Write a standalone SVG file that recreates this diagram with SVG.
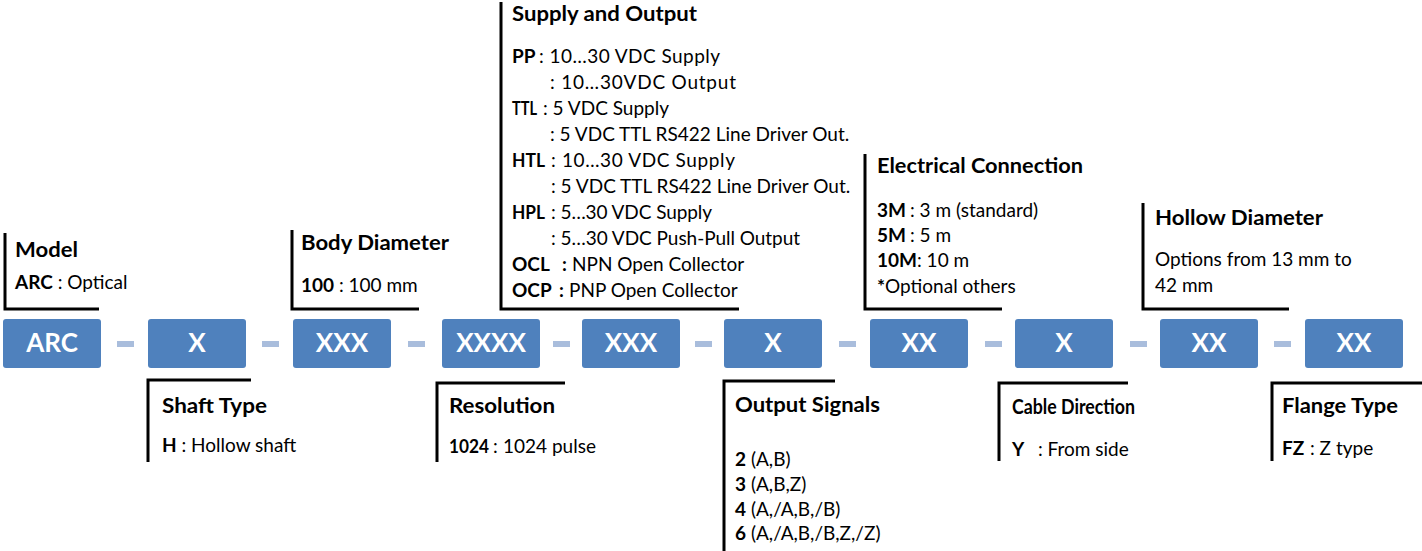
<svg xmlns="http://www.w3.org/2000/svg" width="1422" height="551" viewBox="0 0 1422 551">
<style>
text{font-family:Lato,"Open Sans",sans-serif;fill:#000}
.t{font-size:21px;font-weight:bold}
.b{font-size:19px}
.bold{font-weight:bold}
.box{fill:#4F81BD}
.bl{font-size:26px;font-weight:bold;fill:#fff;text-anchor:middle}
.br{fill:none;stroke:#000;stroke-width:3}
.dash{fill:#A9BDDC}
</style>
<rect width="1422" height="551" fill="#fff"/>
<g id="connectors">
<rect class="dash" x="117" y="341" width="17" height="6"/>
<rect class="dash" x="262" y="341" width="17" height="6"/>
<rect class="dash" x="408" y="341" width="17" height="6"/>
<rect class="dash" x="553" y="341" width="17" height="6"/>
<rect class="dash" x="695" y="341" width="17" height="6"/>
<rect class="dash" x="839" y="341" width="17" height="6"/>
<rect class="dash" x="985" y="341" width="17" height="6"/>
<rect class="dash" x="1130" y="341" width="17" height="6"/>
<rect class="dash" x="1274" y="341" width="17" height="6"/>
</g>
<g id="box-arc"><rect class="box" x="3" y="319" width="98" height="49" rx="3"/><text class="bl" x="52" y="352">ARC</text></g>
<g id="box-shaft"><rect class="box" x="148" y="319" width="98" height="49" rx="3"/><text class="bl" x="197" y="352">X</text></g>
<g id="box-body"><rect class="box" x="293" y="319" width="98" height="49" rx="3"/><text class="bl" x="342" y="352">XXX</text></g>
<g id="box-res"><rect class="box" x="442" y="319" width="98" height="49" rx="3"/><text class="bl" x="491" y="352">XXXX</text></g>
<g id="box-supply"><rect class="box" x="582" y="319" width="98" height="49" rx="3"/><text class="bl" x="631" y="352">XXX</text></g>
<g id="box-signals"><rect class="box" x="724" y="319" width="98" height="49" rx="3"/><text class="bl" x="773" y="352">X</text></g>
<g id="box-elec"><rect class="box" x="870" y="319" width="98" height="49" rx="3"/><text class="bl" x="919" y="352">XX</text></g>
<g id="box-cable"><rect class="box" x="1015" y="319" width="98" height="49" rx="3"/><text class="bl" x="1064" y="352">X</text></g>
<g id="box-hollow"><rect class="box" x="1160" y="319" width="98" height="49" rx="3"/><text class="bl" x="1209" y="352">XX</text></g>
<g id="box-flange"><rect class="box" x="1305" y="319" width="98" height="49" rx="3"/><text class="bl" x="1354" y="352">XX</text></g>

<g id="label-model">
<path class="br" d="M5,233 V309 H99"/>
<text class="t" x="15" y="257" textLength="63" lengthAdjust="spacingAndGlyphs">Model</text>
<text class="b" x="15" y="289"><tspan class="bold">ARC</tspan> : Optical</text>
</g>
<g id="label-body">
<path class="br" d="M292,230 V309 H419"/>
<text class="t" x="301" y="250" textLength="148" lengthAdjust="spacingAndGlyphs">Body Diameter</text>
<text class="b" x="301" y="292"><tspan class="bold">100</tspan> : 100 mm</text>
</g>
<g id="label-supply">
<path class="br" d="M501,2 V309 H739"/>
<text class="t" x="512" y="21" textLength="185" lengthAdjust="spacingAndGlyphs">Supply and Output</text>
<text class="b bold" x="512" y="63">PP</text>
<text class="b" x="539" y="63" textLength="181" lengthAdjust="spacing">: 10…30 VDC Supply</text>
<text class="b" x="550" y="89" textLength="186" lengthAdjust="spacing">: 10…30VDC Output</text>
<text class="b bold" x="512" y="115" textLength="25" lengthAdjust="spacingAndGlyphs">TTL</text>
<text class="b" x="543" y="115">: 5 VDC Supply</text>
<text class="b" x="550" y="141">: 5 VDC TTL RS422 Line Driver Out.</text>
<text class="b bold" x="512" y="167" textLength="33" lengthAdjust="spacingAndGlyphs">HTL</text>
<text class="b" x="551" y="167" textLength="184" lengthAdjust="spacing">: 10…30 VDC Supply</text>
<text class="b" x="551" y="193">: 5 VDC TTL RS422 Line Driver Out.</text>
<text class="b bold" x="512" y="219" textLength="33" lengthAdjust="spacingAndGlyphs">HPL</text>
<text class="b" x="551" y="219" textLength="161" lengthAdjust="spacing">: 5…30 VDC Supply</text>
<text class="b" x="551" y="245" textLength="249" lengthAdjust="spacing">: 5…30 VDC Push-Pull Output</text>
<text class="b" x="512" y="271"><tspan class="bold">OCL</tspan><tspan class="bold" x="562">:</tspan><tspan x="572">NPN Open Collector</tspan></text>
<text class="b" x="512" y="297"><tspan class="bold">OCP</tspan><tspan class="bold" x="559">:</tspan><tspan x="569">PNP Open Collector</tspan></text>
</g>
<g id="label-elec">
<path class="br" d="M865,154 V309 H1002"/>
<text class="t" x="877" y="173" textLength="206" lengthAdjust="spacingAndGlyphs">Electrical Connection</text>
<text class="b" x="877" y="217"><tspan class="bold">3M</tspan><tspan x="910">: 3 m (standard)</tspan></text>
<text class="b" x="877" y="242"><tspan class="bold">5M</tspan><tspan x="910">: 5 m</tspan></text>
<text class="b" x="877" y="267"><tspan class="bold">10M</tspan>: 10 m</text>
<text class="b" x="877" y="293"><tspan class="bold">*</tspan>Optional others</text>
</g>
<g id="label-hollow">
<path class="br" d="M1143,203 V309 H1289"/>
<text class="t" x="1155" y="225" textLength="168" lengthAdjust="spacingAndGlyphs">Hollow Diameter</text>
<text class="b" x="1155" y="266">Options from 13 mm to</text>
<text class="b" x="1155" y="292">42 mm</text>
</g>
<g id="label-shaft">
<path class="br" d="M148,462 V380 H251"/>
<text class="t" x="162" y="413" textLength="105" lengthAdjust="spacingAndGlyphs">Shaft Type</text>
<text class="b" x="162" y="452"><tspan class="bold">H</tspan> : Hollow shaft</text>
</g>
<g id="label-res">
<path class="br" d="M437,462 V383 H565"/>
<text class="t" x="449" y="413" textLength="106" lengthAdjust="spacingAndGlyphs">Resolution</text>
<text class="b bold" x="449" y="453" textLength="40" lengthAdjust="spacingAndGlyphs">1024</text>
<text class="b" x="493" y="453">:</text>
<text class="b" x="503" y="453">1024 pulse</text>
</g>
<g id="label-signals">
<path class="br" d="M724,551 V381 H835"/>
<text class="t" x="735" y="412" textLength="145" lengthAdjust="spacingAndGlyphs">Output Signals</text>
<text class="b" x="735" y="466"><tspan class="bold">2</tspan> (A,B)</text>
<text class="b" x="735" y="491"><tspan class="bold">3</tspan> (A,B,Z)</text>
<text class="b" x="735" y="516"><tspan class="bold">4</tspan> (A,/A,B,/B)</text>
<text class="b" x="735" y="540"><tspan class="bold">6</tspan> (A,/A,B,/B,Z,/Z)</text>
</g>
<g id="label-cable">
<path class="br" d="M999,461 V383 H1128"/>
<text class="t" x="1012" y="414" textLength="123" lengthAdjust="spacingAndGlyphs">Cable Direction</text>
<text class="b" x="1012" y="456"><tspan class="bold">Y</tspan><tspan x="1038">: From side</tspan></text>
</g>
<g id="label-flange">
<path class="br" d="M1272,461 V383 H1422"/>
<text class="t" x="1282" y="413" textLength="116" lengthAdjust="spacingAndGlyphs">Flange Type</text>
<text class="b" x="1282" y="455"><tspan class="bold">FZ</tspan><tspan x="1310">: Z type</tspan></text>
</g>
</svg>
